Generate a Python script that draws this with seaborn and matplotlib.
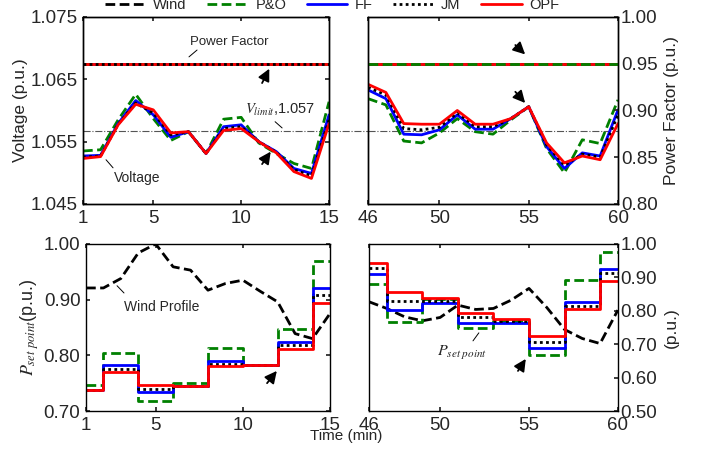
import numpy as np
import pandas as pd
import seaborn as sns
import matplotlib
matplotlib.use('Agg')
import matplotlib.pyplot as plt
from matplotlib.lines import Line2D

# time axes (min)
t_a = [1, 2, 3, 4, 5, 6, 7, 8, 9, 10, 11, 12, 13, 14, 15]
t_b = [46, 47, 48, 49, 50, 51, 52, 53, 54, 55, 56, 57, 58, 59, 60]

# bus voltage (p.u.)
v_po_a = [1.0535, 1.0537, 1.0585, 1.0626, 1.0587, 1.0552, 1.0566, 1.0531, 1.0586, 1.0589, 1.0548, 1.0531, 1.0515, 1.0507, 1.0614]
v_ff_a = [1.0527, 1.0528, 1.0579, 1.0616, 1.0593, 1.0557, 1.0566, 1.0531, 1.0574, 1.0577, 1.0550, 1.0534, 1.0507, 1.0499, 1.0593]
v_jm_a = [1.0525, 1.0527, 1.0578, 1.0612, 1.0596, 1.0561, 1.0566, 1.0531, 1.0571, 1.0574, 1.0550, 1.0533, 1.0505, 1.0495, 1.0585]
v_opf_a = [1.0523, 1.0526, 1.0577, 1.0610, 1.0601, 1.0564, 1.0566, 1.0531, 1.0568, 1.0571, 1.0550, 1.0532, 1.0502, 1.0491, 1.0579]

v_po_b = [1.0619, 1.0609, 1.0551, 1.0548, 1.0564, 1.0587, 1.0566, 1.0562, 1.0585, 1.0606, 1.0539, 1.0500, 1.0553, 1.0547, 1.0617]
v_ff_b = [1.0633, 1.0619, 1.0562, 1.0561, 1.0569, 1.0593, 1.0570, 1.0570, 1.0587, 1.0606, 1.0542, 1.0507, 1.0532, 1.0527, 1.0601]
v_jm_b = [1.0637, 1.0625, 1.0571, 1.0569, 1.0573, 1.0596, 1.0574, 1.0574, 1.0587, 1.0606, 1.0545, 1.0512, 1.0530, 1.0525, 1.0593]
v_opf_b = [1.0642, 1.0629, 1.0579, 1.0578, 1.0578, 1.0600, 1.0578, 1.0578, 1.0587, 1.0606, 1.0548, 1.0516, 1.0527, 1.0521, 1.0579]

v_limit = 1.0567
pf_ref = 0.95  # power factor held by every method

# active power set point (p.u.), held between updates
ts_a = [1, 2, 4, 6, 8, 10, 12, 14, 15]
ts_b = [46, 47, 49, 51, 53, 55, 57, 59, 60]
p_po_a = [0.747, 0.804, 0.718, 0.750, 0.813, 0.782, 0.847, 0.970, 0.970]
p_ff_a = [0.737, 0.782, 0.735, 0.745, 0.790, 0.782, 0.824, 0.921, 0.921]
p_jm_a = [0.737, 0.776, 0.739, 0.745, 0.785, 0.782, 0.818, 0.909, 0.909]
p_opf_a = [0.738, 0.770, 0.747, 0.745, 0.781, 0.782, 0.812, 0.894, 0.894]
p_po_b = [0.879, 0.767, 0.834, 0.747, 0.769, 0.669, 0.892, 0.977, 0.977]
p_ff_b = [0.909, 0.802, 0.822, 0.764, 0.762, 0.690, 0.827, 0.924, 0.924]
p_jm_b = [0.929, 0.829, 0.830, 0.780, 0.769, 0.707, 0.815, 0.912, 0.912]
p_opf_b = [0.944, 0.857, 0.839, 0.792, 0.774, 0.724, 0.804, 0.889, 0.889]

# wind profile (p.u.)
wind_a = [0.921, 0.921, 0.938, 0.984, 1.000, 0.959, 0.953, 0.917, 0.929, 0.935, 0.915, 0.896, 0.839, 0.830, 0.875]
wind_b = [0.827, 0.807, 0.782, 0.770, 0.780, 0.817, 0.804, 0.807, 0.832, 0.867, 0.810, 0.744, 0.717, 0.702, 0.802]

GREEN, BLUE, RED = '#008000', '#0000ff', '#ff0000'
DASH = (0, (3.5, 1.6))
DOT = (0, (1, 1.2))
sty = {'P&O': dict(color=GREEN, lw=2, linestyle=DASH),
       'FF': dict(color=BLUE, lw=2, linestyle='-'),
       'JM': dict(color='black', lw=2, linestyle=DOT),
       'OPF': dict(color=RED, lw=2, linestyle='-')}
wind_sty = dict(color='black', lw=2, linestyle=DASH)

sns.set_theme(style='ticks', rc={'xtick.direction': 'in', 'ytick.direction': 'in',
                                 'xtick.major.size': 3, 'ytick.major.size': 3,
                                 'axes.linewidth': 1.0, 'axes.edgecolor': 'black',
                                 'mathtext.fontset': 'stix'})
plt.rcParams['font.family'] = ['Liberation Sans', 'DejaVu Sans']

TK = 13.5
fig = plt.figure(figsize=(7.01, 4.53), dpi=100)
ax_tl = fig.add_axes([0.1184, 0.5497, 0.351, 0.4128])
ax_tr = fig.add_axes([0.525, 0.5497, 0.3566, 0.4128])
ax_bl = fig.add_axes([0.1227, 0.0927, 0.348, 0.3687])
ax_br = fig.add_axes([0.5264, 0.0927, 0.355, 0.3687])


def line(ax, x, y, name, **kw):
    sns.lineplot(x=x, y=y, ax=ax, legend=False, **sty[name], **kw)


# ---- top row: voltage + power factor
for ax, t, vals in [(ax_tl, t_a, (v_po_a, v_ff_a, v_jm_a, v_opf_a)),
                    (ax_tr, t_b, (v_po_b, v_ff_b, v_jm_b, v_opf_b))]:
    for name, v in zip(['P&O', 'FF', 'JM', 'OPF'], vals):
        line(ax, t, v, name)
    ax.set_ylim(1.045, 1.075)
    ax.set_xlim(t[0], t[-1])
    ax.set_xlabel('')
# limit line runs across the gap between the two panels
ax_tl.axhline(v_limit, xmin=0, xmax=1.17, clip_on=False, color='#555555', lw=0.8, linestyle='-.', zorder=1)
ax_tr.axhline(v_limit, color='#555555', lw=0.8, linestyle='-.', zorder=1)

pf_tl = ax_tl.twinx()
pf_tr = ax_tr.twinx()
for ax, order in [(pf_tl, ['FF', 'P&O', 'OPF', 'JM']), (pf_tr, ['FF', 'JM', 'OPF', 'P&O'])]:
    for name in order:
        ax.axhline(pf_ref, **sty[name])
    ax.set_ylim(0.80, 1.00)

ax_tl.set_yticks([1.045, 1.055, 1.065, 1.075])
ax_tl.set_yticklabels(['1.045', '1.055', '1.065', '1.075'])
ax_tl.set_xticks([1, 5, 10, 15])
ax_tl.tick_params(axis='both', labelsize=TK, top=True, right=True, pad=4)
ax_tl.set_ylabel('Voltage (p.u.)', fontsize=12.5, labelpad=2)
pf_tl.tick_params(right=False, labelright=False)

ax_tr.set_xticks([46, 50, 55, 60])
ax_tr.tick_params(axis='x', labelsize=TK, top=True, pad=4)
ax_tr.tick_params(axis='y', left=False, labelleft=False, right=False)
ax_tr.set_ylabel('')
pf_tr.set_yticks([0.80, 0.85, 0.90, 0.95, 1.00])
pf_tr.set_yticklabels(['0.80', '0.85', '0.90', '0.95', '1.00'])
pf_tr.tick_params(axis='y', labelsize=TK, pad=2)
pf_tr.set_ylabel('Power Factor (p.u.)', fontsize=12.5, labelpad=5)

# ---- bottom row: set points + wind
for ax, ts, t, vals, wind in [(ax_bl, ts_a, t_a, (p_po_a, p_ff_a, p_jm_a, p_opf_a), wind_a),
                              (ax_br, ts_b, t_b, (p_po_b, p_ff_b, p_jm_b, p_opf_b), wind_b)]:
    sns.lineplot(x=t, y=wind, ax=ax, legend=False, **wind_sty)
    for name, p in zip(['P&O', 'FF', 'JM', 'OPF'], vals):
        line(ax, ts, p, name, drawstyle='steps-post')
    ax.set_xlim(t[0], t[-1])
    ax.set_xlabel('')

ax_bl.set_ylim(0.70, 1.00)
ax_bl.set_yticks([0.70, 0.80, 0.90, 1.00])
ax_bl.set_yticklabels(['0.70', '0.80', '0.90', '1.00'])
ax_bl.set_xticks([1, 5, 10, 15])
ax_bl.tick_params(axis='both', labelsize=TK, top=True, right=True, pad=4)
ax_bl.set_ylabel(r'$P_{set\ point}$(p.u.)', fontsize=13, labelpad=2)

ax_br.set_ylim(0.50, 1.00)
ax_br.set_yticks([0.50, 0.60, 0.70, 0.80, 0.90, 1.00])
ax_br.set_yticklabels(['0.50', '0.60', '0.70', '0.80', '0.90', '1.00'])
ax_br.set_xticks([46, 50, 55, 60])
ax_br.yaxis.tick_right()
ax_br.yaxis.set_label_position('right')
ax_br.tick_params(axis='both', labelsize=TK, top=True, pad=2)
ax_br.tick_params(axis='x', pad=4)
ax_br.set_ylabel('(p.u.)', fontsize=12.5, labelpad=5)

# ---- annotations
arrow = dict(arrowstyle='-|>,head_length=0.6,head_width=0.3', color='black', lw=1.3,
             mutation_scale=12, shrinkA=0, shrinkB=0)
lead = dict(arrowstyle='-', color='black', lw=0.7, shrinkA=0, shrinkB=0)
ax_tl.annotate('', xy=(11.60, 1.0667), xytext=(11.19, 1.0644), arrowprops=arrow)
ax_tl.annotate('', xy=(11.68, 1.0534), xytext=(11.19, 1.0514), arrowprops=arrow)
ax_tl.annotate('', xy=(7.03, 1.0686), xytext=(7.49, 1.0697), arrowprops=lead)
ax_tl.text(9.31, 1.0710, 'Power Factor', ha='center', va='center', fontsize=9.5)
ax_tl.annotate('', xy=(2.31, 1.0521), xytext=(2.71, 1.0508), arrowprops=lead)
ax_tl.text(4.07, 1.0492, 'Voltage', ha='center', va='center', fontsize=10)
ax_tl.annotate('', xy=(11.93, 1.0582), xytext=(12.33, 1.0572), arrowprops=lead)
ax_tl.text(12.21, 1.0601, r'$V_{limit}$,1.057', ha='center', va='center', fontsize=10.5)

ax_tr.annotate('', xy=(54.80, 1.0690), xytext=(54.25, 1.0705), arrowprops=arrow)
ax_tr.annotate('', xy=(54.80, 1.0612), xytext=(54.25, 1.0630), arrowprops=arrow)

ax_bl.annotate('', xy=(2.78, 0.925), xytext=(3.18, 0.912), arrowprops=lead)
ax_bl.text(5.36, 0.887, 'Wind Profile', ha='center', va='center', fontsize=10)
ax_bl.annotate('', xy=(11.95, 0.772), xytext=(11.39, 0.750), arrowprops=arrow)

ax_br.annotate('', xy=(52.18, 0.734), xytext=(51.85, 0.710), arrowprops=lead)
ax_br.text(51.23, 0.674, r'$P_{set\ point}$', ha='center', va='center', fontsize=11.5)
ax_br.annotate('', xy=(54.82, 0.656), xytext=(54.38, 0.620), arrowprops=arrow)

for ax in [ax_tl, ax_tr, ax_bl, ax_br, pf_tl, pf_tr]:
    for s in ax.spines.values():
        s.set_visible(True)
        s.set_color('black')

fig.text(0.494, 0.037, 'Time (min)', ha='center', va='center', fontsize=11)

handles = [Line2D([], [], **wind_sty)] + [Line2D([], [], **sty[n]) for n in ['P&O', 'FF', 'JM', 'OPF']]
fig.legend(handles, ['Wind', 'P&O', 'FF', 'JM', 'OPF'], loc='center', bbox_to_anchor=(0.474, 0.989),
           ncol=5, frameon=False, fontsize=10.5, handlelength=2.8, handletextpad=0.5,
           columnspacing=1.4, borderpad=0)

fig.savefig('out.png', dpi=100)
